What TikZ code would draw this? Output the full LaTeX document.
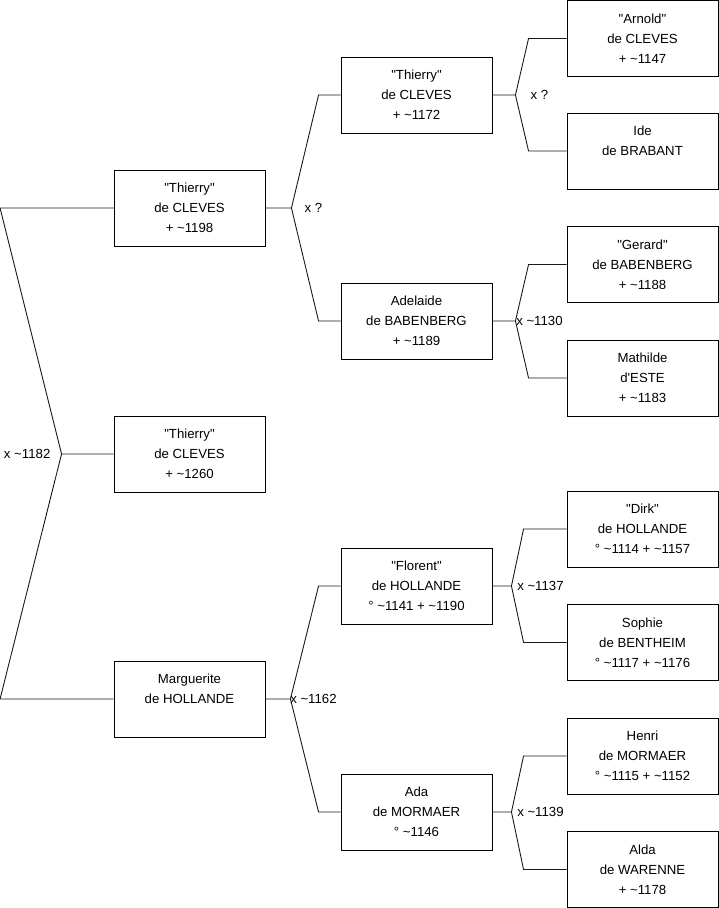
\documentclass[tikz,border=0pt]{standalone}
\usepackage{fontspec}
\newfontfamily\treefont{Liberation Sans}
\usetikzlibrary{positioning}

\begin{document}
\begin{tikzpicture}[x=1pt, y=1pt,
  font=\treefont\fontsize{13.2}{20}\selectfont,
  pers/.style={draw, line width=0.9pt, minimum width=151pt, minimum height=76pt,
               inner sep=0pt, align=center},
  lnk/.style={line width=0.9pt, black!90},
  mlab/.style={inner sep=0pt}
]
\useasboundingbox (0,0) rectangle (719,-908);
% generation 1
\node[pers] (thA) at (189.5,-208) {"Thierry"\\de CLEVES\\+ \textasciitilde1198};
\node[pers] (thB) at (189.5,-454) {"Thierry"\\de CLEVES\\+ \textasciitilde1260};
\node[pers] (mar) at (189.5,-699) {Marguerite\\de HOLLANDE\\\mbox{}};
% generation 2
\node[pers] (thC) at (416.5,-95)  {"Thierry"\\de CLEVES\\+ \textasciitilde1172};
\node[pers] (ade) at (416.5,-321) {Adelaide\\de BABENBERG\\+ \textasciitilde1189};
\node[pers] (flo) at (416.5,-586) {"Florent"\\de HOLLANDE\\° \textasciitilde1141 + \textasciitilde1190};
\node[pers] (ada) at (416.5,-812) {Ada\\de MORMAER\\° \textasciitilde1146};
% generation 3
\node[pers] (arn) at (642.5,-38.5)  {"Arnold"\\de CLEVES\\+ \textasciitilde1147};
\node[pers] (ide) at (642.5,-151)   {Ide\\de BRABANT\\\mbox{}};
\node[pers] (ger) at (642.5,-264.5) {"Gerard"\\de BABENBERG\\+ \textasciitilde1188};
\node[pers] (mat) at (642.5,-378)   {Mathilde\\d'ESTE\\+ \textasciitilde1183};
\node[pers] (dir) at (642.5,-529)   {"Dirk"\\de HOLLANDE\\° \textasciitilde1114 + \textasciitilde1157};
\node[pers] (sop) at (642.5,-642.5) {Sophie\\de BENTHEIM\\° \textasciitilde1117 + \textasciitilde1176};
\node[pers] (hen) at (642.5,-756)   {Henri\\de MORMAER\\° \textasciitilde1115 + \textasciitilde1152};
\node[pers] (ald) at (642.5,-869.5) {Alda\\de WARENNE\\+ \textasciitilde1178};
% marriage points
\coordinate (j0) at ([xshift=-52pt]thB.west);
\coordinate (j1) at ([xshift=26pt]thA.east);
\coordinate (j2) at ([xshift=25pt]mar.east);
\coordinate (j3) at ([xshift=23pt]thC.east);
\coordinate (j4) at ([xshift=23pt]ade.east);
\coordinate (j5) at ([xshift=19pt]flo.east);
\coordinate (j6) at ([xshift=19pt]ada.east);
% links
\draw[lnk] (thB.west) -- (j0) -- ([xshift=-113.5pt]thA.west) -- (thA.west);
\draw[lnk] (j0) -- ([xshift=-113.5pt]mar.west) -- (mar.west);
\draw[lnk] (thA.east) -- (j1) -- ([xshift=-22pt]thC.west) -- (thC.west);
\draw[lnk] (j1) -- ([xshift=-22pt]ade.west) -- (ade.west);
\draw[lnk] (mar.east) -- (j2) -- ([xshift=-22pt]flo.west) -- (flo.west);
\draw[lnk] (j2) -- ([xshift=-22pt]ada.west) -- (ada.west);
\draw[lnk] (thC.east) -- (j3) -- ([xshift=-38pt]arn.west) -- (arn.west);
\draw[lnk] (j3) -- ([xshift=-38pt]ide.west) -- (ide.west);
\draw[lnk] (ade.east) -- (j4) -- ([xshift=-38pt]ger.west) -- (ger.west);
\draw[lnk] (j4) -- ([xshift=-38pt]mat.west) -- (mat.west);
\draw[lnk] (flo.east) -- (j5) -- ([xshift=-43pt]dir.west) -- (dir.west);
\draw[lnk] (j5) -- ([xshift=-43pt]sop.west) -- (sop.west);
\draw[lnk] (ada.east) -- (j6) -- ([xshift=-43pt]hen.west) -- (hen.west);
\draw[lnk] (j6) -- ([xshift=-43pt]ald.west) -- (ald.west);
% marriage labels
\node[mlab, left=11pt of j0] (m0) {x \textasciitilde1182};
\node[mlab] (m1) at ([xshift=22pt]j1) {x ?};
\node[mlab] (m2) at ([xshift=23pt]j2) {x \textasciitilde1162};
\node[mlab] (m3) at ([xshift=24pt]j3) {x ?};
\node[mlab] (m4) at ([xshift=24pt]j4) {x \textasciitilde1130};
\node[mlab] (m5) at ([xshift=29pt]j5) {x \textasciitilde1137};
\node[mlab] (m6) at ([xshift=29pt]j6) {x \textasciitilde1139};
\end{tikzpicture}
\end{document}
